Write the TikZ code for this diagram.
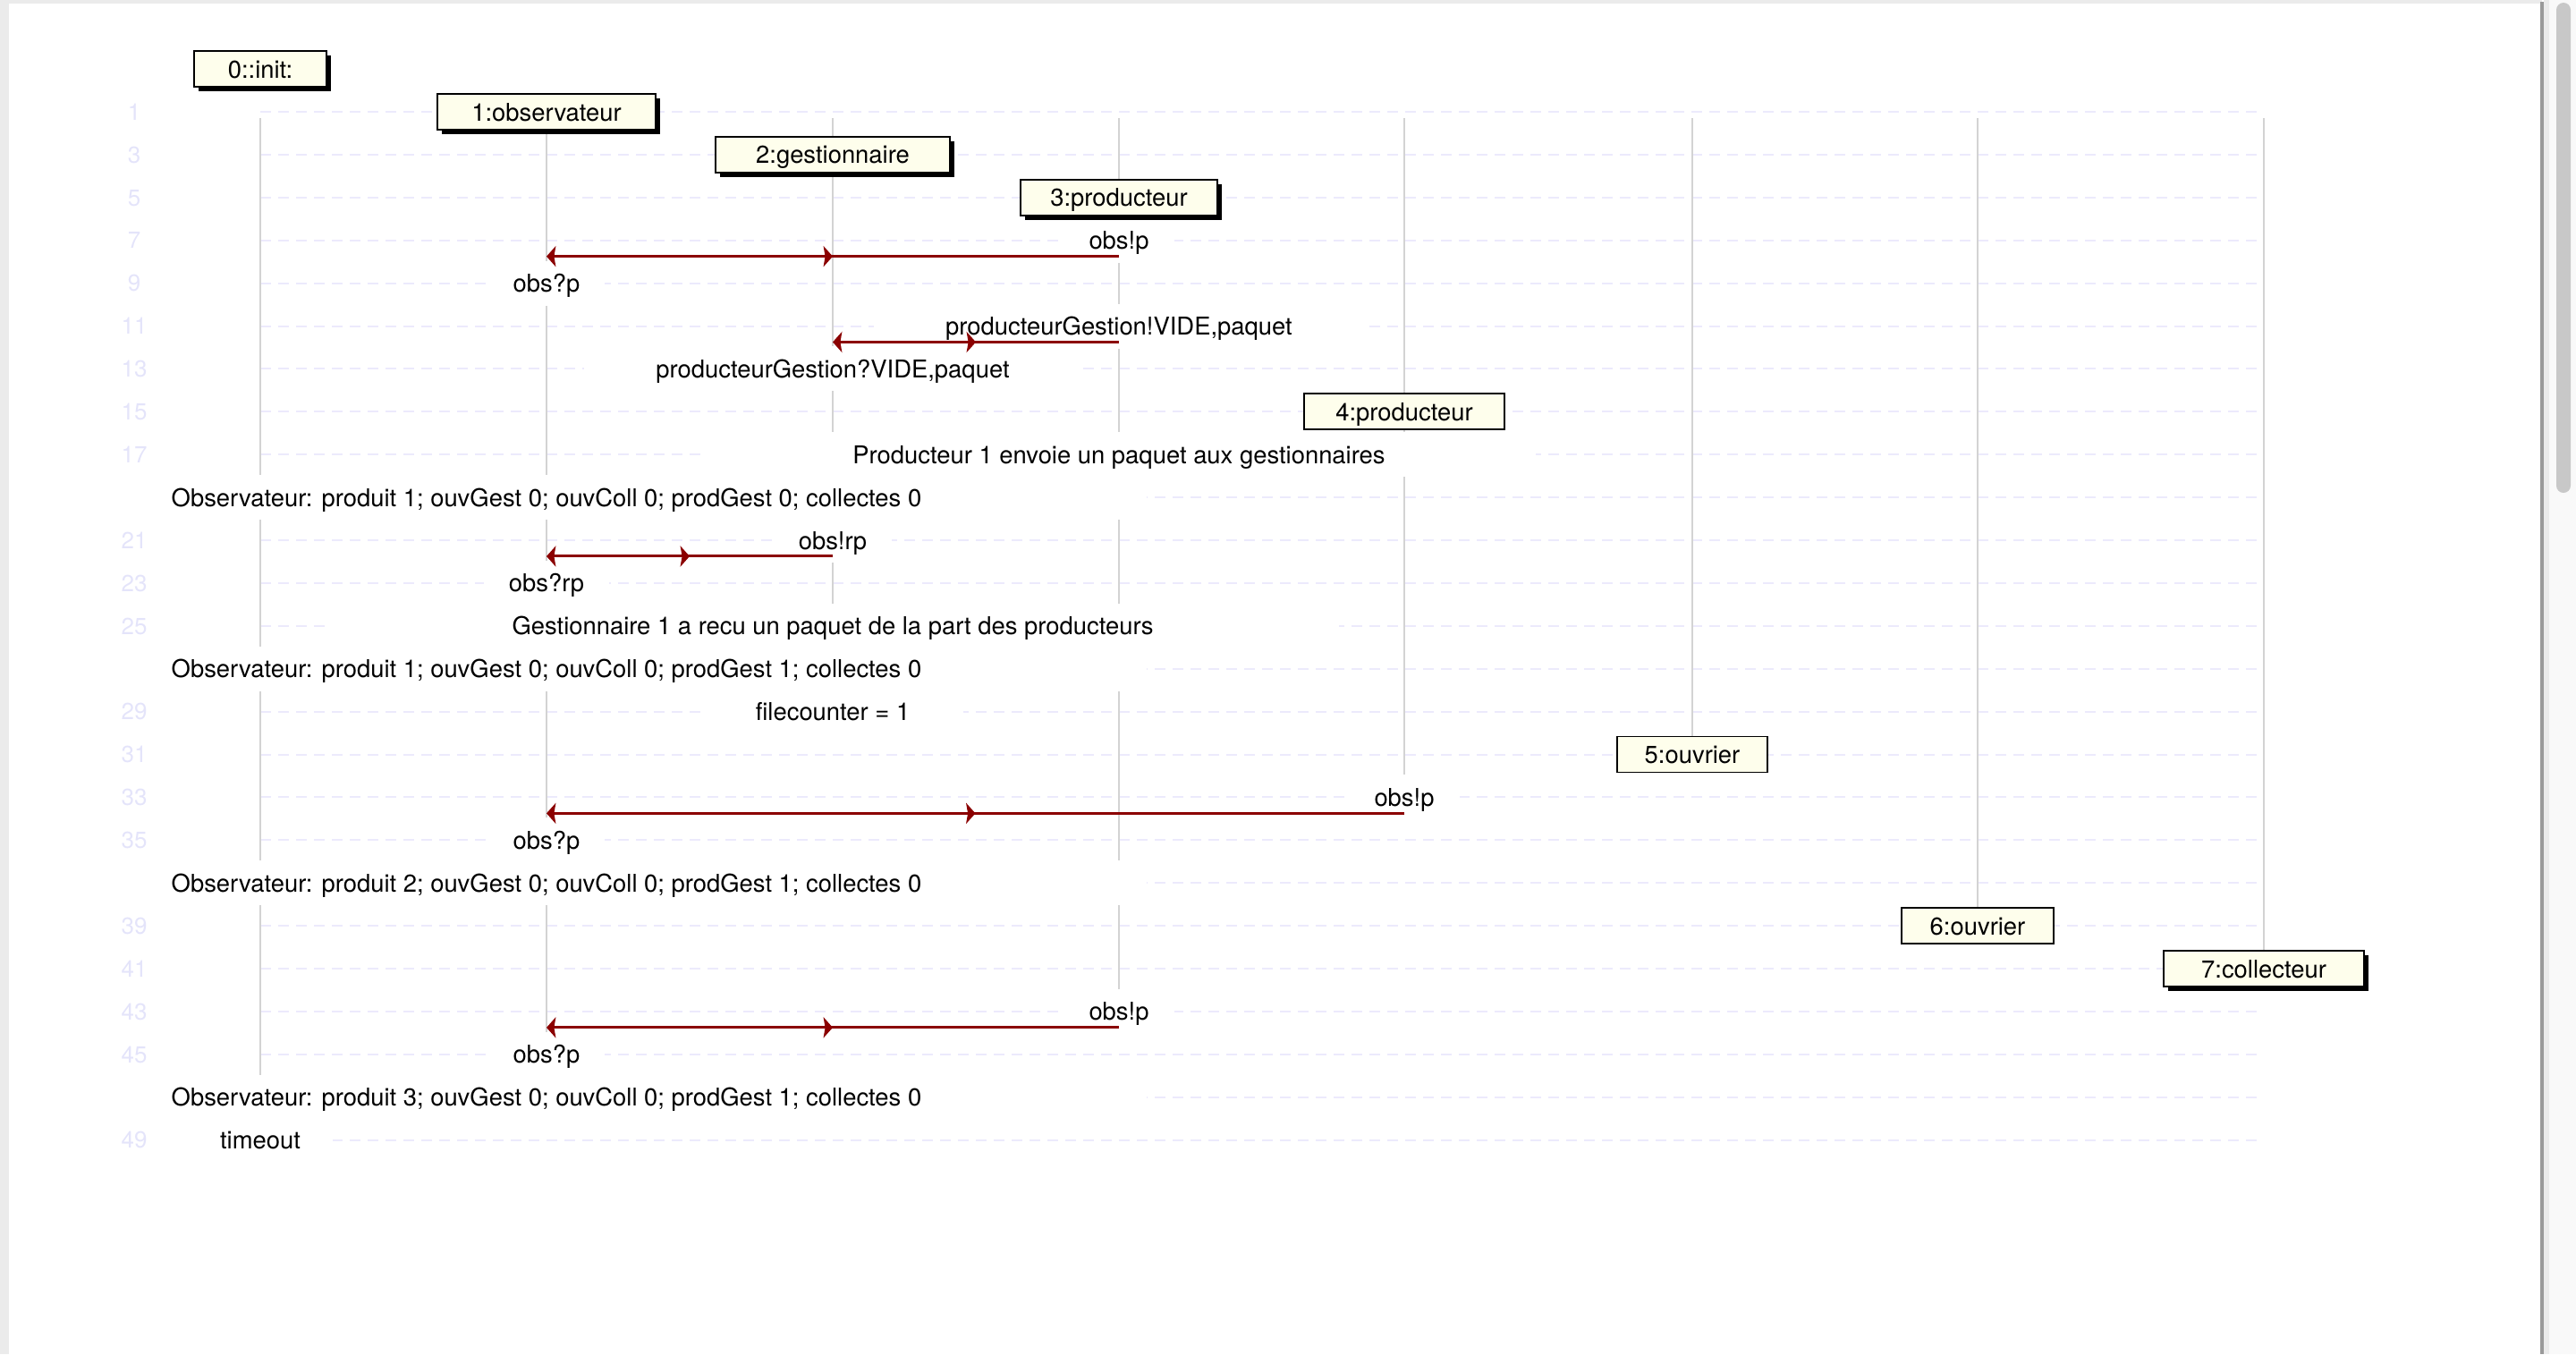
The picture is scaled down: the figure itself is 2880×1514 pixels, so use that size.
\documentclass[tikz,border=0pt]{standalone}
\usepackage{fontspec}
\setmainfont{TeX Gyre Heros}[Ligatures=CommonOff]
\usetikzlibrary{arrows.meta}
\usetikzlibrary{decorations.markings}
\usetikzlibrary{shadows}
\definecolor{boxFill}{RGB}{254,254,236}
\definecolor{msgRed}{RGB}{139,0,0}
\definecolor{lifeGray}{RGB}{211,211,211}
\definecolor{rowLavender}{RGB}{236,234,252}
\definecolor{numLavender}{RGB}{228,228,250}
\definecolor{pageGray}{RGB}{235,235,235}
\definecolor{frameGray}{RGB}{154,154,154}
\definecolor{scrollLight}{RGB}{249,249,249}
\definecolor{thumbGray}{RGB}{200,200,200}
\newcommand{\labelFont}{\fontsize{6.85}{8}\selectfont}
\newcommand{\rowy}[1]{{125+(#1-1)*23.95}}
\newcommand{\lifeLine}[3]{%%
  %% A lifeline from the top row down to its end.
  \coordinate (#1Top) at (#2,132);
  \coordinate (#1End) at (#2,#3);
  \draw[lifeStyle] (#1Top) -- (#1End);
}
\newcommand{\procBox}[5][boxStyle]{%%
  \node[#1] (#2) at (#3,\rowy{#4}) {#5};
}
\newcommand{\sendMsg}[7]{%%
  %% Sender label, receiver label, then the message itself.
  \coordinate (#1Send) at (#2,\rowy{#4+0.75});
  \coordinate (#1Recv) at (#3,\rowy{#4+0.75});
  \node[labelStyle=#7] (#1SendLabel) at (#2,\rowy{#4}) {#5};
  \node[labelStyle=#7] (#1RecvLabel) at (#3,\rowy{#4+2}) {#6};
  \draw[msgStyle] (#1Send) -- (#1Recv);
}

\begin{document}
\begin{tikzpicture}[%%
  x=0.25pt,y=-0.25pt,%%
  rowStyle/.style={rowLavender,line width=0.5pt,dash pattern=on 3pt off 2pt},%%
  numStyle/.style={numLavender,font=\fontsize{6.5}{8}\selectfont,text height=4.6pt,text depth=0pt,inner sep=0pt},%%
  lifeStyle/.style={lifeGray,line width=0.5pt},%%
  boxStyle/.style={draw=black,line width=0.45pt,fill=boxFill,font=\labelFont,inner xsep=0pt,inner ysep=2.5pt,text height=5pt,text depth=0pt,minimum width=#1},%%
  boxStyle/.default=40pt,%%
  shadowBoxStyle/.style={boxStyle=#1,drop shadow={shadow xshift=1.25pt,shadow yshift=-1.25pt,fill=black,opacity=1}},%%
  labelStyle/.style={fill=white,font=\labelFont,inner xsep=#1,inner ysep=3.75pt,text height=5pt,text depth=0pt},%%
  labelStyle/.default=7pt,%%
  msgStyle/.style={msgRed,line width=0.75pt,-{Stealth[length=2.6pt,width=5.8pt,inset=0.5pt]},%%
    postaction={decorate},%%
    decoration={markings,mark=at position 0.5 with {\arrowreversed{Stealth[length=2.6pt,width=5.8pt,inset=0.5pt]}}}}%%
]
%%
%%
\pgfmathsetmacro{\xInit}{291}
\pgfmathsetmacro{\xObs}{611}
\pgfmathsetmacro{\xGest}{931}
\pgfmathsetmacro{\xProdA}{1251}
\pgfmathsetmacro{\xProdB}{1570}
\pgfmathsetmacro{\xOuvA}{1892}
\pgfmathsetmacro{\xOuvB}{2211}
\pgfmathsetmacro{\xColl}{2531}
\useasboundingbox (0,0) rectangle (2880,1514);
%% The numbered rows.
\foreach \k in {1,3,...,49} {
  \draw[rowStyle] (291,\rowy{\k}) -- (2524,\rowy{\k});
  \node[numStyle] (num\k) at (150,\rowy{\k}) {\k};
}
%% The lifelines.
\lifeLine{init}{\xInit}{1256}
\lifeLine{obs}{\xObs}{1215}
\lifeLine{gest}{\xGest}{772}
\lifeLine{prodA}{\xProdA}{1149}
\lifeLine{prodB}{\xProdB}{909}
\lifeLine{ouvA}{\xOuvA}{844}
\lifeLine{ouvB}{\xOuvB}{1036}
\lifeLine{coll}{\xColl}{1083}
%% The notes.
\node[labelStyle=42pt] (prodNote) at (\xProdA,\rowy{17}) {Producteur 1 envoie un paquet aux gestionnaires};
\node[labelStyle=63pt] (obsNoteA) at (\xObs,\rowy{19}) {Observateur: produit 1; ouvGest 0; ouvColl 0; prodGest 0; collectes 0};
\node[labelStyle=52pt] (gestNote) at (\xGest,\rowy{25}) {Gestionnaire 1 a recu un paquet de la part des producteurs};
\node[labelStyle=63pt] (obsNoteB) at (\xObs,\rowy{27}) {Observateur: produit 1; ouvGest 0; ouvColl 0; prodGest 1; collectes 0};
\node[labelStyle=15pt] (fileNote) at (\xGest,\rowy{29}) {filecounter = 1};
\node[labelStyle=63pt] (obsNoteC) at (\xObs,\rowy{37}) {Observateur: produit 2; ouvGest 0; ouvColl 0; prodGest 1; collectes 0};
\node[labelStyle=63pt] (obsNoteD) at (\xObs,\rowy{47}) {Observateur: produit 3; ouvGest 0; ouvColl 0; prodGest 1; collectes 0};
\node[labelStyle=9pt] (timeoutNote) at (\xInit,\rowy{49}) {timeout};
%% The messages.
\sendMsg{obsA}{\xProdA}{\xObs}{7}{obs!p}{obs?p}{7pt}
\sendMsg{prodGest}{\xProdA}{\xGest}{11}{producteurGestion!VIDE,paquet}{producteurGestion?VIDE,paquet}{20pt}
\sendMsg{obsB}{\xGest}{\xObs}{21}{obs!rp}{obs?rp}{7pt}
\sendMsg{obsC}{\xProdB}{\xObs}{33}{obs!p}{obs?p}{7pt}
\sendMsg{obsD}{\xProdA}{\xObs}{43}{obs!p}{obs?p}{7pt}
%% The processes.
\procBox[shadowBoxStyle=37pt]{initBox}{\xInit}{-1}{0::init:}
\procBox[shadowBoxStyle=61pt]{obsBox}{\xObs}{1}{1:observateur}
\procBox[shadowBoxStyle=65.5pt]{gestBox}{\xGest}{3}{2:gestionnaire}
\procBox[shadowBoxStyle=55pt]{prodABox}{\xProdA}{5}{3:producteur}
\procBox[boxStyle=56pt]{prodBBox}{\xProdB}{15}{4:producteur}
\procBox[boxStyle=42pt]{ouvABox}{\xOuvA}{31}{5:ouvrier}
\procBox[boxStyle=42.5pt]{ouvBBox}{\xOuvB}{39}{6:ouvrier}
\procBox[shadowBoxStyle=56pt]{collBox}{\xColl}{41}{7:collecteur}
%% The browser frame round the page.
\fill[pageGray] (0,0) rectangle (10,1514);
\fill[pageGray] (10,0) rectangle (2842,4);
\fill[scrollLight] (2844,0) rectangle (2880,1514);
\fill[pageGray] (2844,0) rectangle (2850,1514);
\fill[frameGray] (2840,2) rectangle (2844,1514);
\fill[thumbGray,rounded corners=2pt] (2858,3) rectangle (2874,551);
\end{tikzpicture}
\end{document}
